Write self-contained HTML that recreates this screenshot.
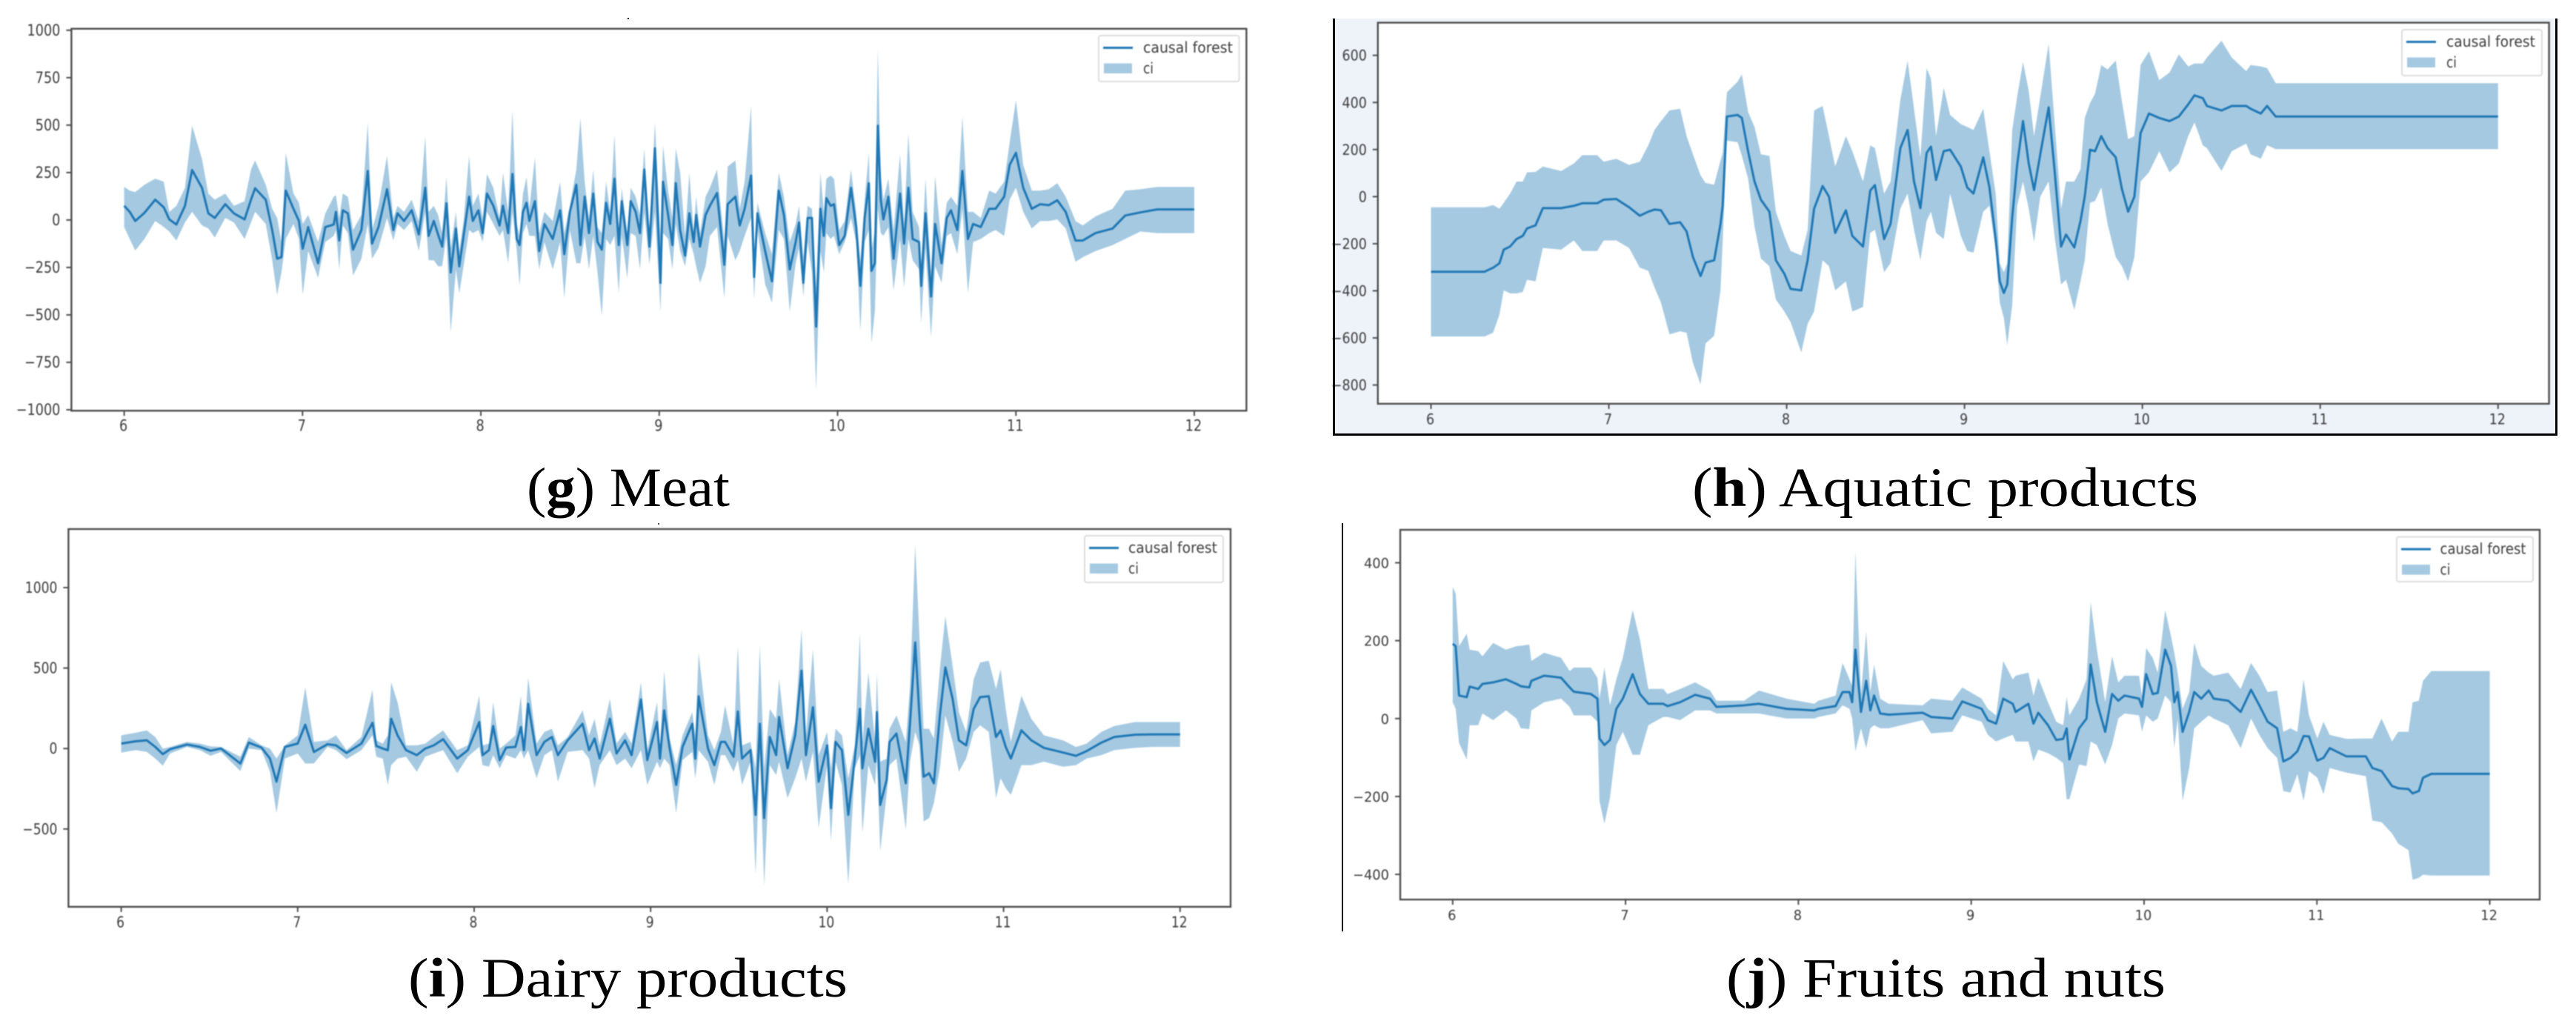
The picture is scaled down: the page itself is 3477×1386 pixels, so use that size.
<!DOCTYPE html>
<html lang="en">
<head>
<meta charset="utf-8">
<title>Causal forest estimates by food category</title>
<style>
html,body{margin:0;padding:0;background:#fff;}
svg{display:block;}
.caption{font-family:"Liberation Serif",serif;font-size:75px;fill:#000;}
.caption tspan{font-weight:bold;}
.tick{font-family:"DejaVu Sans",sans-serif;fill:#3c3c3c;}
.soft{filter:blur(0.8px);}
</style>
</head>
<body>
<svg id="figure" xmlns="http://www.w3.org/2000/svg" width="3477" height="1386" viewBox="0 0 3477 1386">
  <rect x="0" y="0" width="3477" height="1386" fill="#fff"/>
  <rect x="1800" y="25" width="1650" height="561" fill="#eef3fa"/>
  <g id="plots" class="soft"></g>
  <rect x="1799" y="25" width="3" height="563" fill="#000"/>
  <rect x="1799" y="585" width="1653" height="3" fill="#000"/>
  <rect x="3449" y="25" width="3" height="563" fill="#000"/>
  <rect x="1811" y="706" width="2" height="551" fill="#000"/>
  <rect x="847" y="24" width="2" height="2" fill="#000"/>
  <rect x="888" y="706" width="2" height="2" fill="#555"/>
  <text class="caption" x="711" y="683" textLength="274" lengthAdjust="spacingAndGlyphs">(<tspan>g</tspan>) Meat</text>
  <text class="caption" x="2284" y="683" textLength="683" lengthAdjust="spacingAndGlyphs">(<tspan>h</tspan>) Aquatic products</text>
  <text class="caption" x="551" y="1345" textLength="593" lengthAdjust="spacingAndGlyphs">(<tspan>i</tspan>) Dairy products</text>
  <text class="caption" x="2330" y="1345" textLength="593" lengthAdjust="spacingAndGlyphs">(<tspan>j</tspan>) Fruits and nuts</text>
</svg>
<script>
const xTickValues = [6,7,8,9,10,11,12];
const meatYTicks = [1000,750,500,250,0,-250,-500,-750,-1000];
const aquaticYTicks = [600,400,200,0,-200,-400,-600,-800];
const dairyYTicks = [1000,500,0,-500];
const fruitsYTicks = [400,200,0,-200,-400];

const meatTimes = [
6,6.031,6.062,6.114,6.174,6.222,6.253,6.293,6.341,6.381,
6.436,6.472,6.508,6.567,6.615,6.675,6.711,6.734,6.794,6.83,
6.858,6.882,6.906,6.949,6.98,7.001,7.032,7.087,7.128,7.175,
7.187,7.206,7.226,7.254,7.283,7.33,7.366,7.39,7.426,7.474,
7.509,7.533,7.569,7.612,7.652,7.688,7.707,7.736,7.76,7.783,
7.807,7.831,7.86,7.879,7.903,7.934,7.955,7.986,8.01,8.034,
8.07,8.105,8.124,8.153,8.177,8.201,8.217,8.236,8.256,8.272,
8.303,8.327,8.356,8.403,8.444,8.468,8.499,8.535,8.558,8.582,
8.606,8.63,8.654,8.678,8.702,8.725,8.749,8.773,8.79,8.821,
8.84,8.868,8.892,8.916,8.945,8.976,9.007,9.021,9.05,9.074,
9.093,9.117,9.145,9.169,9.193,9.207,9.229,9.26,9.284,9.324,
9.365,9.384,9.427,9.451,9.479,9.515,9.532,9.551,9.594,9.632,
9.67,9.699,9.732,9.765,9.784,9.808,9.832,9.856,9.88,9.904,
9.923,9.937,9.961,9.98,10.009,10.04,10.075,10.104,10.128,10.152,
10.175,10.19,10.209,10.226,10.242,10.257,10.285,10.314,10.35,10.373,
10.397,10.421,10.457,10.469,10.493,10.524,10.547,10.583,10.612,10.636,
10.671,10.7,10.731,10.76,10.803,10.85,10.886,10.934,10.965,11,
11.041,11.089,11.136,11.184,11.232,11.279,11.334,11.375,11.446,11.542,
11.613,11.697,11.792,12];
const meatMean = [
75,43,-5,38,107,67,3,-24,75,263,
170,35,11,83,35,3,107,167,107,-53,
-204,-196,155,59,-5,-151,-37,-228,-37,-24,
43,-108,51,35,-156,-53,258,-124,-37,162,
-53,35,-5,51,-76,170,-84,-5,-76,-140,
88,-276,-45,-244,-84,123,-5,51,-69,139,
75,-29,75,-69,242,-100,-132,43,91,-5,
99,-164,-21,-100,51,-180,43,186,-132,123,
-69,139,-116,-156,91,-21,218,-132,99,-132,
99,43,-69,266,-140,378,-331,202,27,-132,
194,-53,-188,35,-116,27,-140,27,75,142,
-236,83,123,-29,59,234,-300,35,-164,-323,
155,27,-260,-116,-13,-331,11,11,-562,59,
-84,115,75,83,-132,-84,170,-37,-347,11,
194,-268,-228,497,107,3,123,-204,139,-124,
170,-100,-116,-347,35,-403,-21,-228,11,51,
-53,258,-100,-21,-37,59,59,123,290,354,
170,59,83,78,104,43,-108,-108,-69,-45,
24,40,56,56];
const meatUpper = [
175,155,147,186,218,202,43,75,170,497,
322,139,107,139,75,99,266,314,186,59,
11,-116,354,139,91,-21,27,-116,35,123,
131,11,139,123,-53,27,513,-53,75,338,
11,75,43,107,-5,441,43,75,27,-69,
226,-148,43,-164,-5,338,75,139,11,242,
170,11,250,43,577,-21,-84,139,226,59,
330,-69,43,-5,202,-69,75,266,537,202,
11,266,-37,-69,202,43,449,-69,170,-69,
170,123,27,378,-69,513,-84,393,155,11,
378,250,-84,250,-69,123,-69,123,170,266,
-116,282,314,59,202,601,-196,91,-69,-180,
250,123,-116,-21,75,-196,75,59,-355,250,
43,218,234,218,-53,-5,266,43,-212,107,
354,-164,-53,903,234,107,218,-53,346,-21,
457,43,-37,-228,218,-276,234,-132,91,123,
75,545,43,43,11,155,139,202,409,632,
290,155,155,162,194,123,-5,-29,19,59,
155,162,174,174];
const meatLower = [
-37,-100,-161,-100,-5,-37,-61,-108,-13,43,
-29,-45,-92,11,-13,-100,-13,43,-21,-212,
-395,-276,-100,-21,-100,-395,-164,-304,-116,-84,
-53,-260,-29,-69,-292,-204,-21,-204,-148,11,
-108,-21,-53,-5,-164,43,-212,-212,-244,-244,
-84,-594,-260,-387,-244,-53,-69,-53,-116,43,
-21,-84,-53,-228,43,-164,-347,-69,-21,-84,
-84,-260,-116,-260,-116,-411,-53,-228,-228,-84,
-260,-84,-276,-507,-100,-132,-84,-387,-84,-307,
-69,-84,-260,43,-236,43,-483,-69,-100,-260,
-21,-164,-244,-100,-180,-244,-331,-244,-84,-37,
-411,-84,-212,-164,-84,11,-419,-53,-339,-435,
-53,-100,-483,-228,-148,-403,-116,-276,-897,-164,
-276,-69,-100,-84,-180,-116,11,-116,-586,-116,
-53,-650,-483,59,-69,-84,-37,-371,-100,-355,
-100,-212,-260,-546,-148,-618,-244,-331,-84,-69,
-180,59,-387,-116,-100,-69,-53,-84,107,170,
43,-45,-5,-5,3,-45,-220,-196,-164,-132,
-100,-61,-69,-69];

const aquaticTimes = [
6,6.301,6.349,6.385,6.409,6.445,6.481,6.516,6.54,6.588,
6.629,6.732,6.803,6.851,6.935,6.971,7.042,7.114,7.174,7.222,
7.257,7.293,7.341,7.401,7.437,7.473,7.516,7.544,7.592,7.628,
7.64,7.664,7.724,7.748,7.783,7.819,7.855,7.903,7.939,7.987,
8.022,8.082,8.118,8.154,8.202,8.238,8.273,8.333,8.369,8.429,
8.47,8.496,8.548,8.584,8.639,8.68,8.716,8.752,8.787,8.811,
8.84,8.883,8.919,8.979,9.015,9.05,9.105,9.14,9.175,9.198,
9.221,9.24,9.268,9.296,9.329,9.361,9.391,9.426,9.473,9.506,
9.543,9.571,9.617,9.652,9.676,9.706,9.734,9.769,9.804,9.85,
9.885,9.92,9.955,9.99,10.037,10.095,10.153,10.205,10.258,10.293,
10.34,10.363,10.445,10.503,10.584,10.608,10.666,10.701,10.75,12];
const aquaticMean = [
-319,-319,-302,-283,-225,-212,-180,-167,-135,-122,
-49,-49,-39,-28,-28,-13,-10,-45,-81,-64,
-55,-58,-116,-109,-148,-257,-337,-280,-270,-116,
-39,340,347,334,193,64,-13,-64,-270,-328,
-392,-398,-270,-51,45,0,-154,-58,-167,-212,
26,49,-180,-116,206,283,64,-49,186,212,
71,193,199,128,39,13,167,39,-180,-360,
-409,-373,-90,135,321,141,28,180,379,116,
-212,-161,-216,-103,0,199,193,257,206,167,
32,-64,0,270,353,334,321,340,392,430,
418,385,366,385,385,373,353,385,340,340];
const aquaticUpper = [
-45,-45,-36,-51,-26,13,64,64,103,105,
128,109,141,176,176,148,161,135,148,218,
283,321,366,373,257,180,90,58,51,154,
186,443,488,520,360,296,180,173,-64,-167,
-231,-250,-141,366,385,257,128,257,193,64,
218,206,13,64,411,578,373,167,546,501,
257,463,347,308,296,283,373,193,13,-283,
-321,-283,283,424,572,450,257,424,649,321,
-51,64,64,116,334,398,437,559,540,578,
405,244,257,559,617,495,527,604,553,565,
565,591,662,591,533,559,553,546,482,482];
const aquaticLower = [
-594,-594,-578,-501,-398,-411,-411,-405,-353,-360,
-218,-225,-186,-231,-231,-186,-186,-218,-302,-315,
-386,-450,-585,-572,-578,-707,-797,-623,-591,-398,
-193,238,231,173,77,-128,-263,-296,-437,-488,
-533,-662,-540,-488,-270,-296,-398,-360,-488,-469,
-154,-141,-321,-283,-51,13,-141,-270,-103,-64,
-154,-180,13,-167,-231,-238,-64,-39,-231,-450,
-514,-630,-463,-39,64,-51,-193,0,64,-167,
-373,-353,-482,-360,-270,-26,-19,39,-116,-257,
-296,-360,-257,64,103,193,103,141,257,315,
218,206,109,193,225,180,161,218,202,202];

const dairyTimes = [
6,6.084,6.145,6.193,6.236,6.277,6.373,6.446,6.506,6.566,
6.675,6.723,6.795,6.843,6.88,6.928,7,7.043,7.092,7.169,
7.217,7.277,7.361,7.424,7.446,7.482,7.511,7.53,7.566,7.614,
7.675,7.723,7.771,7.824,7.904,7.964,8.029,8.048,8.084,8.108,
8.145,8.181,8.234,8.265,8.282,8.306,8.354,8.398,8.441,8.475,
8.53,8.614,8.651,8.682,8.711,8.769,8.807,8.855,8.892,8.945,
8.981,9.036,9.053,9.077,9.108,9.145,9.181,9.236,9.253,9.272,
9.325,9.361,9.398,9.422,9.47,9.494,9.518,9.566,9.595,9.619,
9.643,9.675,9.711,9.728,9.776,9.819,9.855,9.88,9.92,9.952,
10,10.022,10.048,10.084,10.12,10.157,10.186,10.2,10.234,10.272,
10.282,10.301,10.337,10.354,10.393,10.446,10.47,10.499,10.523,10.547,
10.578,10.605,10.639,10.67,10.711,10.747,10.788,10.831,10.867,10.916,
10.957,10.983,11.012,11.041,11.101,11.157,11.229,11.337,11.41,11.47,
11.554,11.627,11.747,11.843,12];
const dairyMean = [
31,45,51,10,-35,-4,25,10,-14,0,
-93,37,6,-62,-206,10,31,148,-21,27,
20,-27,31,160,16,0,-10,185,82,-10,
-41,0,20,58,-62,-10,165,-41,-10,140,
-72,6,10,134,-10,278,-41,41,72,-41,
51,154,-10,62,-62,185,-31,51,-41,305,
-72,165,-62,237,0,-226,10,154,-62,325,
0,-103,41,41,-51,230,-62,-10,-412,154,
-432,72,-41,196,-123,82,484,-41,257,-206,
20,-370,41,-10,-412,-62,247,-123,123,-82,
226,-350,-196,41,93,-216,165,659,206,-175,
-154,-216,206,504,309,51,20,247,319,325,
72,113,10,-62,113,51,4,-25,-45,-16,
37,72,86,88,88];
const dairyUpper = [
82,99,113,72,0,10,41,31,14,10,
-51,72,20,0,-62,20,82,381,41,51,
82,-10,72,366,51,31,82,412,288,20,
20,31,72,113,-10,20,329,20,31,288,
0,31,82,329,41,442,31,103,123,20,
72,237,82,185,20,309,31,103,31,412,
-10,288,20,484,62,-103,82,226,82,597,
82,-10,103,268,20,638,20,41,-123,638,
-123,247,185,432,-41,165,741,82,617,-41,
103,-123,123,82,-185,20,720,41,473,41,
473,-82,-62,123,206,41,391,1266,700,123,
123,62,494,823,514,226,103,432,535,545,
370,494,247,41,329,185,82,51,10,31,
103,140,165,165,165];
const dairyLower = [
-25,-10,-21,-62,-107,-31,10,-10,-45,-21,
-140,0,-10,-144,-401,-62,-31,-93,-93,10,
-10,-66,-10,82,-51,-62,-226,-103,-62,-51,
-144,-51,-31,-10,-154,-51,10,-103,-113,-41,
-123,-41,-62,-10,-62,-10,-185,-41,-10,-206,
-21,-10,-62,-247,-103,-10,-103,-62,-123,-10,
-226,-82,-123,-62,-103,-401,-72,-21,-185,-10,
-82,-226,-41,-41,-144,-72,-226,-82,-782,-41,
-854,-103,-165,-82,-309,-185,-62,-206,-21,-494,
-103,-576,-82,-226,-844,-123,-41,-525,-103,-226,
-62,-638,-288,-103,-62,-504,-82,103,20,-453,
-432,-340,-123,206,41,-144,-62,103,144,103,
-309,-185,-247,-288,-103,-103,-82,-113,-103,-62,
-41,-10,4,10,10];

const fruitsTimes = [
6,6.017,6.037,6.081,6.098,6.148,6.172,6.234,6.308,6.369,
6.394,6.443,6.455,6.529,6.627,6.677,6.701,6.8,6.837,6.849,
6.878,6.91,6.947,6.984,7.041,7.083,7.132,7.218,7.243,7.316,
7.403,7.489,7.526,7.686,7.772,7.932,8.092,8.116,8.215,8.256,
8.296,8.311,8.33,8.362,8.392,8.416,8.438,8.473,8.522,8.719,
8.768,8.891,8.948,9.06,9.096,9.144,9.185,9.24,9.257,9.331,
9.36,9.388,9.444,9.492,9.532,9.552,9.568,9.624,9.667,9.691,
9.727,9.775,9.815,9.851,9.887,9.971,9.988,10.012,10.05,10.079,
10.122,10.156,10.175,10.194,10.223,10.261,10.29,10.331,10.374,10.403,
10.487,10.559,10.619,10.667,10.715,10.77,10.806,10.847,10.887,10.923,
10.954,11.002,11.038,11.074,11.17,11.283,11.321,11.374,11.434,11.47,
11.53,11.554,11.59,11.614,11.662,12];
const fruitsMean = [
192,186,59,55,82,76,89,93,101,89,
83,80,97,110,105,80,69,63,51,-51,
-68,-55,25,51,114,63,38,38,32,42,
61,51,30,34,38,25,21,25,32,68,
68,42,177,17,97,21,59,13,10,15,
4,0,44,25,-4,-13,51,38,17,38,
-13,15,-17,-55,-52,-25,-105,-25,0,139,
42,-34,63,46,59,51,30,114,63,66,
177,135,42,68,-34,17,68,51,72,51,
46,17,74,34,-8,-25,-110,-101,-84,-45,
-46,-108,-101,-76,-97,-97,-127,-135,-173,-179,
-181,-192,-186,-152,-142,-142];
const fruitsUpper = [
338,321,186,218,177,173,160,194,177,186,
187,190,148,169,156,122,131,131,105,51,
131,34,101,156,279,203,76,76,63,76,
93,72,46,46,72,51,38,46,59,143,
101,84,430,63,224,68,139,51,38,34,
51,46,80,51,25,8,148,101,110,118,
59,105,42,-8,-17,55,8,51,101,300,
177,42,160,93,110,110,59,181,156,118,
279,211,169,118,25,68,194,135,118,110,
118,76,143,110,68,72,-34,-25,-34,101,
8,-51,-8,-42,-52,-51,-51,0,-59,-34,
-34,42,46,97,122,122];
const fruitsLower = [
42,25,-63,-105,-17,-17,13,-4,21,0,
-25,-27,21,42,51,30,8,8,-8,-211,
-270,-203,-68,-34,-93,-93,-17,4,4,-4,
21,21,13,13,13,0,0,4,13,34,
25,0,-84,-25,-76,-25,-17,-25,-25,-4,
-38,-34,8,-8,-42,-59,-51,-42,-59,-59,
-110,-80,-89,-101,-114,-207,-207,-118,-122,-59,
-68,-118,-68,0,13,8,-34,8,-8,0,
59,42,-76,0,-211,-127,-25,-8,8,0,
-17,-76,0,-42,-76,-101,-186,-190,-143,-211,
-135,-152,-194,-127,-139,-148,-262,-266,-295,-321,
-338,-414,-409,-401,-403,-403];

const SVG_NS = 'http://www.w3.org/2000/svg';
const plots = document.getElementById('plots');

function svgEl(tag, attrs, parent) {
  const el = document.createElementNS(SVG_NS, tag);
  for (const key in attrs) el.setAttribute(key, attrs[key]);
  parent.appendChild(el);
  return el;
}
function linearAxis(dataA, pixelA, dataB, pixelB) {
  const k = (pixelB - pixelA) / (dataB - dataA);
  return function (v) { return pixelA + (v - dataA) * k; };
}
function formatTick(v) {
  return v < 0 ? '\u2212' + Math.abs(v) : String(v);
}
function tickText(group, str, x, y, anchor, cfg) {
  const el = svgEl('text', {
    class: 'tick',
    'text-anchor': anchor,
    'font-size': cfg.fontSize,
    transform: 'translate(' + x + ' ' + y + ') scale(' + cfg.hScale + ' 1)'
  }, group);
  el.textContent = str;
  return el;
}

function drawPanel(cfg) {
  const xScale = linearAxis(6, cfg.x6, 12, cfg.x12);
  const yScale = linearAxis(cfg.yA, cfg.yAPixel, cfg.yB, cfg.yBPixel);

  const panel = svgEl('g', {}, plots);
  
  

  const area = svgEl('rect', {
    x: cfg.left, y: cfg.top, width: cfg.right - cfg.left, height: cfg.bottom - cfg.top, fill: '#fff'
  }, panel);
  
  

  const upperPts = cfg.times.map(function (t, i) { return xScale(t).toFixed(1) + ',' + yScale(cfg.upper[i]).toFixed(1); });
  const lowerPts = cfg.times.map(function (t, i) { return xScale(t).toFixed(1) + ',' + yScale(cfg.lower[i]).toFixed(1); }).reverse();
  const band = svgEl('polygon', { points: upperPts.concat(lowerPts).join(' '), fill: '#1f77b4', 'fill-opacity': 0.4 }, panel);
  
  

  const meanPts = cfg.times.map(function (t, i) { return xScale(t).toFixed(1) + ',' + yScale(cfg.mean[i]).toFixed(1); });
  const line = svgEl('polyline', { points: meanPts.join(' '), fill: 'none', stroke: '#1f77b4', 'stroke-width': 3, 'stroke-linejoin': 'round' }, panel);
  
  

  const spines = svgEl('rect', {
    x: cfg.left, y: cfg.top, width: cfg.right - cfg.left, height: cfg.bottom - cfg.top,
    fill: 'none', stroke: '#4d4d4d', 'stroke-width': 2.4
  }, panel);
  
  

  xTickValues.forEach(function (v) {
    const px = xScale(v);
    const mark = svgEl('line', { x1: px, x2: px, y1: cfg.bottom, y2: cfg.bottom + 7, stroke: '#4d4d4d', 'stroke-width': 2 }, panel);
    
    
    const label = tickText(panel, String(v), px - 1, cfg.xLabelY, 'middle', cfg);
    
    
  });
  cfg.yTicks.forEach(function (v) {
    const py = yScale(v);
    const mark = svgEl('line', { x1: cfg.left - 7, x2: cfg.left, y1: py, y2: py, stroke: '#4d4d4d', 'stroke-width': 2 }, panel);
    
    
    const label = tickText(panel, formatTick(v), cfg.left - 15, py + 7, 'end', cfg);
    
    
  });

  const lg = cfg.legend;
  const legend = svgEl('g', {}, panel);
  
  

  const box = svgEl('rect', { x: lg.x1, y: lg.y1, width: lg.x2 - lg.x1, height: lg.y2 - lg.y1, rx: 3, fill: '#fff', stroke: '#dcdcdc', 'stroke-width': 2 }, legend);
  
  

  const sample = svgEl('line', { x1: lg.x1 + 6, x2: lg.x1 + 46, y1: lg.y1 + 16.5, y2: lg.y1 + 16.5, stroke: '#1f77b4', 'stroke-width': 3 }, legend);
  
  

  const patch = svgEl('rect', { x: lg.x1 + 7, y: lg.y1 + 37.5, width: 38, height: 13.5, fill: '#1f77b4', 'fill-opacity': 0.4 }, legend);
  
  

  const labelA = svgEl('text', { class: 'tick', x: lg.textX, y: lg.y1 + 23, 'font-size': 20, textLength: lg.textW, lengthAdjust: 'spacingAndGlyphs' }, legend);
  labelA.textContent = 'causal forest';
  
  

  const labelB = svgEl('text', { class: 'tick', x: lg.textX, y: lg.y1 + 51, 'font-size': 20, textLength: 14, lengthAdjust: 'spacingAndGlyphs' }, legend);
  labelB.textContent = 'ci';
  
  
}

drawPanel({
  id: 'meat', times: meatTimes, mean: meatMean, upper: meatUpper, lower: meatLower, yTicks: meatYTicks,
  left: 96.4, right: 1682.4, top: 38.8, bottom: 554.3, x6: 167.6, x12: 1612,
  yA: 1000, yAPixel: 40.8, yB: -1000, yBPixel: 553, xLabelY: 581.6, fontSize: 21, hScale: 0.84,
  legend: { x1: 1483, x2: 1672.6, y1: 48, y2: 110, textX: 1543, textW: 121 }
});
drawPanel({
  id: 'aquatic', times: aquaticTimes, mean: aquaticMean, upper: aquaticUpper, lower: aquaticLower, yTicks: aquaticYTicks,
  left: 1859.8, right: 3440.6, top: 30.6, bottom: 544.9, x6: 1931.5, x12: 3371.8,
  yA: 600, yAPixel: 74.7, yB: -800, yBPixel: 519.6, xLabelY: 572.6, fontSize: 19.6, hScale: 0.89,
  legend: { x1: 3242, x2: 3431, y1: 40, y2: 102, textX: 3302, textW: 120 }
});
drawPanel({
  id: 'dairy', times: dairyTimes, mean: dairyMean, upper: dairyUpper, lower: dairyLower, yTicks: dairyYTicks,
  left: 92.4, right: 1661, top: 714, bottom: 1223.8, x6: 163.6, x12: 1592.8,
  yA: 1000, yAPixel: 793, yB: -500, yBPixel: 1118.8, xLabelY: 1251.4, fontSize: 20, hScale: 0.857,
  legend: { x1: 1464, x2: 1651, y1: 723, y2: 786, textX: 1523, textW: 120 }
});
drawPanel({
  id: 'fruits', times: fruitsTimes, mean: fruitsMean, upper: fruitsUpper, lower: fruitsLower, yTicks: fruitsYTicks,
  left: 1890, right: 3428, top: 715, bottom: 1214, x6: 1960.8, x12: 3360.6,
  yA: 400, yAPixel: 759.5, yB: -400, yBPixel: 1180, xLabelY: 1241.6, fontSize: 18.4, hScale: 0.97,
  legend: { x1: 3235, x2: 3419, y1: 724.6, y2: 785, textX: 3293.5, textW: 116 }
});
</script>
</body>
</html>
